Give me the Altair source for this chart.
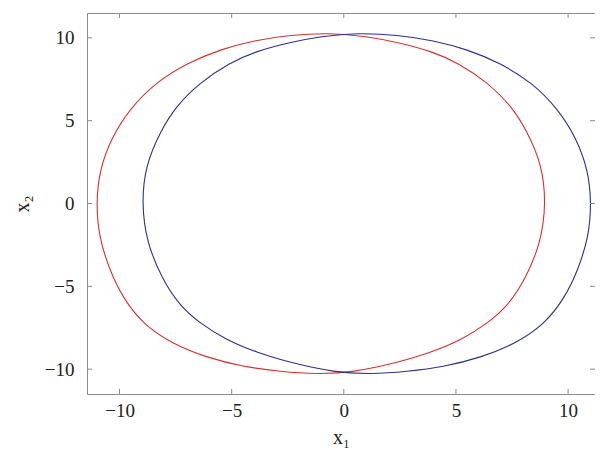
import altair as alt
import pandas as pd

# Red curve (read counter-clockwise from the top)
red_x = [-0.6, -2.4, -4.0, -5.5, -6.95, -8.4, -9.55, -10.35, -10.9, -11.04,
         -10.92, -10.45, -9.85, -8.95, -7.6, -6.1, -4.5, -2.8, -1.2, 0.4,
         2.4, 3.88, 5.3, 6.45, 7.3, 8.1, 8.8, 9.01, 8.85, 8.14,
         7.48, 6.45, 5.12, 3.94, 2.46, 1.0]
red_y = [10.3, 10.18, 9.85, 9.3, 8.5, 7.3, 5.7, 4.0, 2.0, 0.0,
         -2.0, -4.0, -5.7, -7.3, -8.5, -9.3, -9.85, -10.15, -10.3, -10.2,
         -9.6, -9.0, -8.19, -7.19, -6.19, -4.58, -2.3, 0.0, 2.3, 4.46,
         5.86, 7.27, 8.48, 9.18, 9.72, 10.1]

# Blue curve
blue_x = [0.6, -1.0, -2.46, -3.94, -5.12, -6.45, -7.48, -8.14, -8.85, -9.01,
          -8.8, -8.1, -7.3, -6.45, -5.3, -3.88, -2.4, -0.4, 1.2, 2.8,
          4.5, 6.1, 7.6, 8.95, 9.85, 10.45, 10.92, 11.04, 10.9, 10.35,
          9.55, 8.4, 6.95, 5.5, 4.0, 2.4]
blue_y = [10.3, 10.1, 9.72, 9.18, 8.48, 7.27, 5.86, 4.46, 2.3, 0.0,
          -2.3, -4.58, -6.19, -7.19, -8.19, -9.0, -9.6, -10.2, -10.3, -10.15,
          -9.85, -9.3, -8.5, -7.3, -5.7, -4.0, -2.0, 0.0, 2.0, 4.0,
          5.7, 7.3, 8.5, 9.3, 9.85, 10.18]

x_ticks = [-10, -5, 0, 5, 10]
y_ticks = [-10, -5, 0, 5, 10]

rows = []
for i, (a, b) in enumerate(zip(red_x, red_y)):
    rows.append({"curve": "red", "i": i, "x1": a, "x2": b})
for i, (a, b) in enumerate(zip(blue_x, blue_y)):
    rows.append({"curve": "blue", "i": i, "x1": a, "x2": b})
df = pd.DataFrame(rows)

W, H = 508, 381
TICK = 5
FRAME = "#8c8c8c"

xs = alt.Scale(domain=[-11.45, 11.2], nice=False, zero=False)
ys = alt.Scale(domain=[-11.5, 11.5], nice=False, zero=False)
xaxis = alt.Axis(title="x₁", values=x_ticks, ticks=False, domain=False, grid=False,
                 labelPadding=7, titlePadding=7)
yaxis = alt.Axis(title="x₂", values=y_ticks, ticks=False, domain=False, grid=False,
                 labelPadding=13, titlePadding=12)

lines = alt.Chart(df).mark_line(interpolate="basis-closed", strokeWidth=1.1).encode(
    x=alt.X("x1:Q", scale=xs, axis=xaxis),
    y=alt.Y("x2:Q", scale=ys, axis=yaxis),
    color=alt.Color("curve:N", scale=alt.Scale(domain=["red", "blue"],
                                               range=["#dc2f2f", "#2e2e8e"]), legend=None),
    detail="curve:N",
    order="i:Q",
)

xt = pd.DataFrame({"x1": x_ticks})
yt = pd.DataFrame({"x2": y_ticks})

xb = alt.Chart(xt).mark_rule(color=FRAME, strokeWidth=1).encode(
    x=alt.X("x1:Q", scale=xs, axis=xaxis), y=alt.value(H), y2=alt.value(H - TICK))
xtop = alt.Chart(xt).mark_rule(color=FRAME, strokeWidth=1).encode(
    x=alt.X("x1:Q", scale=xs, axis=xaxis), y=alt.value(0), y2=alt.value(TICK))
yl = alt.Chart(yt).mark_rule(color=FRAME, strokeWidth=1).encode(
    y=alt.Y("x2:Q", scale=ys, axis=yaxis), x=alt.value(0), x2=alt.value(TICK))
yr = alt.Chart(yt).mark_rule(color=FRAME, strokeWidth=1).encode(
    y=alt.Y("x2:Q", scale=ys, axis=yaxis), x=alt.value(W), x2=alt.value(W - TICK))

chart = alt.layer(lines, xb, xtop, yl, yr).properties(
    width=W, height=H,
    autosize=alt.AutoSizeParams(type="none"),
    padding={"left": 79, "top": 5, "right": 0, "bottom": 58},
).configure_view(stroke=FRAME, strokeWidth=1).configure_axis(
    labelFont="Liberation Serif", labelFontSize=19, labelColor="#222",
    titleFont="Liberation Serif", titleFontSize=20, titleFontWeight="normal", titleColor="#222",
)

chart.save("out.html", embed_options={"renderer": "svg", "actions": False})
